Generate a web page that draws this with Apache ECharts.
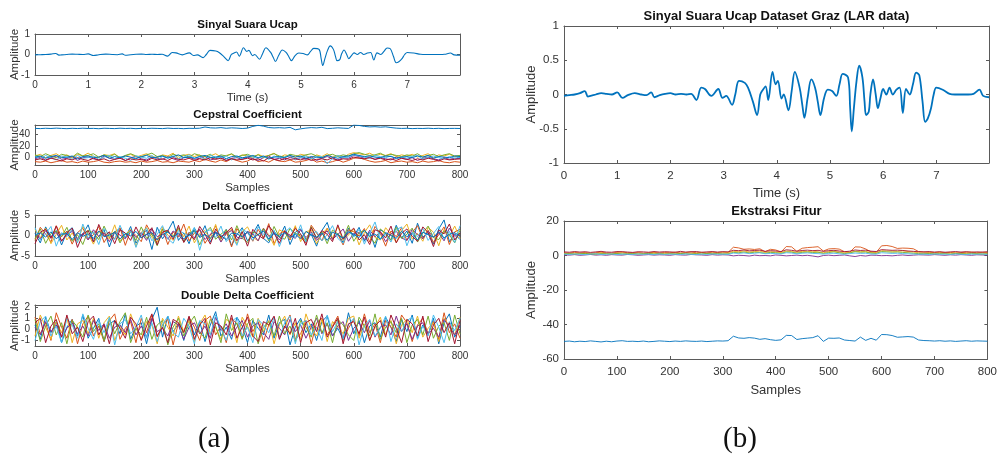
<!DOCTYPE html>
<html>
<head>
<meta charset="utf-8">
<script src="https://cdn.jsdelivr.net/npm/echarts@6/dist/echarts.min.js"></script>
<style>
html,body{margin:0;padding:0;background:#fff;}
#c{width:1000px;height:461px;}
</style>
</head>
<body>
<div id="c"></div>
<script>
// ---------- DATA ----------
const speechTime = [
0,0.1,0.2,0.3,0.39,0.45,0.5,0.6,0.7,0.8,
0.9,1.0,1.1,1.2,1.33,1.45,1.55,1.64,1.7,1.8,
1.9,2.0,2.1,2.2,2.3,2.39,2.49,2.58,2.65,2.77,
2.9,2.98,3.05,3.16,3.22,3.29,3.4,3.46,3.55,3.63,
3.69,3.74,3.79,3.84,3.92,3.98,4.02,4.09,4.13,4.22,
4.28,4.34,4.43,4.48,4.52,4.58,4.65,4.72,4.77,4.82,
4.89,4.96,5.04,5.12,5.18,5.24,5.34,5.38,5.41,5.45,
5.5,5.55,5.61,5.65,5.68,5.73,5.76,5.81,5.86,5.9,
5.95,6.0,6.06,6.12,6.18,6.25,6.31,6.37,6.43,6.5,
6.56,6.62,6.68,6.74,6.79,6.84,6.9,6.95,7.0,7.12,
7.25,7.35,7.47,7.6,7.7,7.81,7.88,7.99];
const speechAmp = [
-0.02,-0.01,0.0,0.02,0.05,-0.03,-0.02,0.0,0.02,0.01,
0.0,0.03,-0.05,-0.01,0.02,0.0,-0.01,0.03,-0.04,-0.01,
0.01,0.02,0.0,0.01,0.0,0.01,-0.08,0.1,0.08,-0.02,
0.08,-0.05,-0.02,-0.15,0.0,0.2,0.17,0.1,-0.1,-0.3,
0.0,0.07,0.12,-0.08,0.33,0.15,0.2,-0.06,0.0,-0.23,
0.05,0.33,0.1,-0.15,-0.34,-0.05,0.22,0.1,-0.1,-0.3,
-0.05,0.07,0.05,-0.02,0.15,0.3,0.25,-0.2,-0.54,-0.2,
0.2,0.42,0.25,-0.1,-0.3,-0.25,0.0,0.22,0.0,-0.2,
-0.05,0.08,0.0,0.1,0.0,0.07,0.1,-0.27,0.08,0.0,
0.15,0.32,0.28,-0.1,-0.4,-0.35,-0.2,0.0,0.1,0.07,
0.01,0.0,0.0,0.0,0.01,0.07,-0.02,-0.04];

const samples = [0,10,20,30,40,50,60,70,80,90,100,110,120,130,140,150,160,170,180,190,
200,210,220,230,240,250,260,270,280,290,300,310,320,330,340,350,360,370,380,390,
400,410,420,430,440,450,460,470,480,490,500,510,520,530,540,550,560,570,580,590,
600,610,620,630,640,650,660,670,680,690,700,710,720,730,740,750,760,770,780,790,800];

// Cepstral coefficients (left)
const cepTop = [
51.0,50.6,51.2,50.8,51.4,50.9,50.5,51.1,50.7,51.3,
50.8,51.0,50.4,51.2,50.9,50.6,51.3,50.8,51.1,50.5,
51.0,50.7,51.2,50.9,50.6,51.4,50.8,51.0,50.5,51.1,
50.9,51.3,53.5,52.0,51.6,52.4,51.2,52.0,51.5,50.8,
51.4,54.5,56.5,55.0,52.5,51.8,52.3,51.6,52.8,48.5,
50.2,51.5,52.4,51.8,52.9,50.6,51.2,52.0,51.4,50.9,
57.0,56.2,54.5,53.6,54.0,53.2,53.8,52.5,51.4,50.9,
51.2,50.6,51.0,50.8,51.3,50.7,51.1,50.5,50.9,51.0,
50.8];
const cepA = [
-8,-9,-7,-10,-8,-6,-9,-8,-10,-7,
-9,-8,-6,-9,-10,-8,-7,-9,-8,-10,
-7,-9,-8,-6,-9,-8,-10,-7,-8,-9,
-6,-8,-4,-7,-9,-5,-8,-3,-6,-9,
-7,-2,-8,-6,-9,-4,-7,-8,-5,-9,
-8,-6,-3,-9,-7,-10,-8,-5,-9,-6,
-2,-1,-4,-7,-9,-8,-6,-10,-8,-7,
-9,-8,-10,-7,-9,-8,-6,-9,-10,-8,
-9];
const cepB = [
2,5,-1,3,6,0,4,-2,5,2,
7,1,-1,4,3,6,-2,2,5,0,
3,6,1,-1,4,2,7,-2,3,5,
1,4,-3,2,6,0,3,5,-1,4,
2,-2,5,1,3,7,-1,4,2,0,
5,3,-2,4,1,6,0,3,-1,5,
8,6,4,7,2,5,3,6,1,4,
2,5,0,3,6,-1,4,2,5,1,
3];
const cepC = [
-3,0,-5,-1,2,-4,-2,1,-6,-1,
0,-3,-5,2,-2,-4,0,-6,-1,1,
-3,-5,0,-2,-4,1,-3,-6,-1,0,
-4,-2,1,-5,-3,0,-6,-2,-1,-4,
0,-3,-6,-1,2,-4,-2,-5,0,-3,
-1,-4,0,-6,-2,1,-3,-5,-1,-2,
3,1,-2,0,-4,-1,-3,-5,0,-2,
-4,-1,-6,-2,0,-3,-5,-1,-4,-2,
-3];
const cepD = [
4,1,6,2,-1,5,3,0,7,2,
3,6,0,4,1,5,-1,3,6,2,
0,4,7,1,3,-1,5,2,4,0,
6,3,1,5,-2,4,2,6,0,3,
5,1,4,-1,3,6,2,0,5,3,
1,4,6,2,-1,3,5,1,4,2,
6,8,5,3,4,7,2,5,3,1,
4,2,6,0,3,5,1,4,6,2,
3];
const cepE = [
1,-3,3,-1,-5,2,0,-4,3,-2,
-1,2,-4,0,3,-3,1,-2,-6,2,
0,-2,3,-5,1,-1,2,-3,0,4,
-2,1,-4,3,0,-1,2,-5,1,-3,
3,0,-2,1,-4,2,-1,0,3,-5,
-1,2,-3,0,1,-12,-2,3,-1,0,
4,2,0,-2,3,1,-1,2,-3,0,
-2,1,3,-4,0,2,-1,-3,1,-2,
0];
const cepF = [
-5,-3,-6,-2,-4,-7,-3,-5,-1,-4,
-6,-2,-5,-3,-7,-4,-2,-6,-3,-5,
-4,-7,-2,-5,-3,-6,-1,-4,-5,-2,
-6,-3,-5,-1,-4,-2,-6,-3,-5,-4,
-2,-5,-3,-7,-1,-4,-6,-2,-4,-3,
-5,-2,-6,-4,-3,-5,-1,-6,-3,-4,
0,-2,-3,-1,-4,-2,-5,-3,-6,-2,
-4,-6,-3,-5,-2,-4,-7,-3,-5,-4,
-3];
const cepG = [
0,2,-2,1,3,-1,0,2,-3,1,
2,-1,0,3,-2,1,-1,2,0,-3,
1,3,-1,0,2,-2,1,4,-1,0,
-2,1,3,-1,0,2,-3,1,2,-1,
0,3,-1,2,-2,0,1,-1,3,0,
2,-2,1,0,-1,3,0,-2,1,2,
5,3,1,2,0,-1,2,1,-2,0,
1,-1,2,0,3,-2,1,0,-1,2,
1];

// Delta coefficients
const dA = [
0.5,-1.8,2.1,-0.4,1.2,-2.3,0.8,1.9,-1.1,0.3,
2.6,-1.5,-0.2,1.4,-2.8,0.9,1.7,-0.6,2.2,-1.9,
0.1,1.3,-3.4,2.0,-0.8,1.1,3.5,-1.2,0.6,-2.0,
1.8,-0.3,2.4,-1.6,0.7,-0.9,1.5,-2.5,0.2,1.9,
-1.3,0.4,2.7,-0.7,-1.8,1.0,-0.5,2.3,-2.2,0.8,
1.6,-1.0,0.3,-2.6,1.2,3.2,-0.9,0.5,-1.7,1.8,
-0.2,2.0,-1.4,0.9,-2.9,1.4,0.6,-1.1,2.5,-0.6,
1.1,-1.9,3.0,-0.4,0.7,-2.1,1.6,3.8,-1.5,0.4,
-1.0];
const dB = [
-1.2,2.0,0.4,-1.6,2.4,-0.3,1.1,-2.1,0.7,1.8,
-0.9,0.2,2.2,-1.7,0.5,-0.8,1.9,-2.4,1.3,0.0,
-1.5,2.6,0.3,-1.0,1.6,-2.2,0.9,-0.4,2.8,-1.3,
0.6,1.4,-1.9,0.1,2.3,-0.7,1.0,-2.8,1.7,-0.2,
0.8,-1.4,1.5,-0.6,2.9,-2.0,0.4,1.2,-1.1,2.0,
-0.5,-1.8,2.5,0.6,-1.3,1.8,-0.9,0.3,-2.3,1.4,
0.9,-0.1,1.7,-1.6,2.2,0.5,-2.6,1.1,-0.3,1.9,
-1.2,0.7,2.4,-0.8,1.3,-1.7,0.2,2.1,-2.2,0.9,
1.5];
const dC = [
1.4,-0.6,1.8,-2.0,0.3,2.5,-1.1,0.6,-1.5,2.2,
0.4,-2.1,1.0,0.7,-0.9,2.6,-1.4,0.2,1.5,-2.7,
0.8,1.9,-0.5,-1.6,2.0,0.1,-1.2,1.7,-0.3,2.3,
-1.8,0.5,1.2,-0.9,2.7,-1.4,0.3,1.6,-2.1,0.9,
2.1,-0.4,-1.3,1.8,0.2,-2.4,1.4,0.6,-0.8,2.4,
-1.5,0.9,1.3,-2.0,0.4,1.7,-0.7,2.2,-1.2,0.1,
1.6,-2.3,0.7,2.6,-0.5,-1.1,1.9,0.3,-1.7,1.2,
2.8,-0.9,0.5,-1.4,2.0,0.8,-2.5,1.5,-0.2,2.3,
-0.7];
const dD = [
0.3,-0.9,1.2,-0.4,0.8,-1.3,0.2,1.0,-0.7,0.5,
-1.1,1.4,-0.2,0.6,-1.5,0.9,0.1,-0.8,1.3,-0.5,
0.7,-1.2,1.6,-0.3,0.4,-0.9,1.1,0.2,-1.4,0.8,
-0.6,1.5,-1.0,0.3,0.9,-1.6,0.5,1.2,-0.4,-0.8,
1.0,0.4,-1.3,1.7,-0.2,0.6,-1.1,0.9,0.1,-0.7,
1.4,-0.5,0.8,-1.2,0.3,1.1,-0.9,0.2,1.6,-1.4,
0.5,0.7,-1.0,1.3,-0.3,0.9,-1.5,0.4,1.0,-0.6,
-1.2,1.5,0.2,-0.8,1.1,-0.4,0.6,-1.3,1.8,-0.2,
0.4];
const dE = [
-0.8,1.6,-1.9,0.5,1.1,-0.3,2.0,-1.4,0.2,-2.2,
1.3,0.6,-1.0,2.3,-0.5,1.0,-1.8,0.4,0.9,-1.2,
2.1,-0.7,0.3,-2.5,1.5,0.8,-0.2,1.9,-1.6,0.6,
1.2,-2.3,0.7,2.0,-0.9,0.3,1.4,-1.1,2.4,-0.6,
-1.7,0.9,0.2,1.6,-1.3,2.2,-0.4,-0.9,1.7,0.5,
0.2,-1.5,2.1,-0.6,0.9,-2.0,1.3,0.4,-0.8,2.5,
-1.4,0.7,1.2,-0.3,-1.9,1.6,0.5,-1.2,2.0,-0.7,
0.3,1.8,-1.6,0.6,2.3,-0.5,-1.0,1.1,0.2,-1.8,
1.3];
const dF = [
1.9,-1.1,0.4,2.2,-2.6,0.7,-0.3,1.5,-1.8,2.8,
-0.6,0.9,-2.2,1.7,0.2,-1.0,2.5,-0.4,1.1,-2.9,
0.5,1.8,-1.3,0.3,2.4,-0.8,-1.9,1.2,0.6,-0.2,
2.0,-3.6,0.9,1.4,-0.5,2.3,-1.5,0.1,-2.4,1.6,
0.7,-1.2,2.1,0.3,-0.9,1.3,-2.7,0.8,1.9,-0.6,
2.6,-1.6,0.4,1.0,-1.3,0.2,2.4,-0.7,-1.9,1.1,
-0.4,1.5,-2.1,0.6,3.3,-1.0,0.2,-1.6,1.4,2.1,
-2.5,0.8,-0.3,1.7,-1.2,0.5,2.2,-0.9,1.0,-1.7,
2.4];
const dG = [
-2.0,0.8,1.5,-0.7,2.3,-1.4,0.5,1.8,-2.9,0.3,
1.2,-1.6,2.7,-0.2,0.9,-2.0,1.4,0.6,-1.2,2.1,
-0.5,0.2,1.9,-2.3,0.8,1.3,-0.9,2.5,-1.7,0.4,
-1.0,2.2,0.3,-2.1,1.6,-0.4,0.7,2.0,-1.3,0.9,
-2.6,1.5,0.1,-0.8,2.4,0.6,-1.9,1.1,-0.3,1.7,
0.4,-2.4,1.9,-0.7,1.2,0.3,-1.5,2.6,-0.9,0.6,
1.8,-1.1,0.2,-2.2,1.4,0.9,-0.6,2.3,-1.8,0.5,
1.6,-0.2,-1.4,2.1,0.7,-2.7,1.3,0.4,2.8,-1.1,
0.6];
const dH = [
0.2,0.6,-0.4,0.9,-0.8,0.3,0.5,-1.0,0.7,-0.2,
0.4,-0.7,1.1,-0.3,0.1,0.8,-0.9,0.5,-0.1,1.0,
-0.6,0.3,0.7,-1.1,0.2,0.9,-0.4,0.6,-0.8,0.1,
1.2,-0.5,0.3,-0.7,0.8,0.0,-1.0,0.6,0.4,-0.3,
0.9,-0.6,0.2,1.1,-0.9,0.5,-0.2,0.7,-0.5,0.3,
-0.8,1.0,0.1,-0.4,0.6,-1.2,0.8,0.2,-0.6,0.9,
0.3,-0.5,1.3,-0.2,0.4,-0.9,0.7,0.0,-0.7,1.0,
-0.3,0.5,-1.1,0.8,0.2,-0.4,0.9,-0.6,0.3,0.7,
-0.2];

// Double delta coefficients
const ddA = [
0.4,-0.9,1.1,-0.3,0.7,-1.2,0.2,0.9,-0.6,1.3,
-0.8,0.1,1.0,-1.1,0.5,0.8,-0.4,1.4,-0.9,0.3,
0.6,-1.3,0.9,2.0,-0.7,1.2,-0.2,0.5,-1.0,1.1,
-0.5,0.7,-1.1,0.4,1.6,-0.6,0.2,-0.9,1.1,0.3,
-1.2,0.8,0.1,-0.5,1.3,-0.8,0.6,0.9,-1.4,0.2,
1.0,-0.3,0.5,-1.0,0.7,1.2,-0.6,0.1,-0.9,1.5,
-0.4,0.8,-1.2,0.3,0.6,-0.7,1.1,0.2,-1.1,0.9,
-0.2,1.3,-0.8,0.4,-0.5,1.0,-1.3,0.6,1.4,-0.7,
0.3];
const ddB = [
1.1,-0.4,0.6,-1.0,1.5,0.2,-0.8,0.9,-1.3,0.5,
1.2,-0.6,0.3,-1.1,0.8,1.4,-0.9,0.1,0.7,-1.2,
1.0,-0.3,1.3,-0.7,0.4,0.9,-1.4,0.6,-0.2,1.1,
0.2,-1.0,0.8,1.2,-0.5,0.3,-1.2,1.0,0.5,-0.8,
1.4,-0.2,0.7,-1.1,0.4,1.1,-0.7,0.2,1.3,-0.9,
-0.4,0.8,-1.3,0.6,1.0,-0.5,0.3,1.2,-1.0,0.1,
0.9,-0.6,1.4,-0.3,0.5,-1.2,0.8,0.2,-0.7,1.3,
0.6,-1.1,0.4,1.0,-0.4,0.7,-0.9,1.5,-0.3,0.5,
-0.8];
const ddC = [
-0.6,1.3,0.2,-0.9,0.7,-0.3,1.1,-1.2,0.5,0.8,
-0.4,1.0,-0.8,0.6,1.2,-1.0,0.3,-0.5,1.4,0.1,
-0.9,0.7,0.4,-1.3,1.0,0.2,-0.6,1.2,-0.2,0.8,
-1.1,0.5,1.3,-0.4,0.2,-0.9,0.9,0.6,-1.2,1.1,
0.3,-0.7,1.0,-0.2,0.8,-1.3,0.4,1.2,-0.5,0.6,
-0.9,1.4,0.1,-0.6,0.9,-1.1,0.7,0.3,-0.4,1.0,
1.2,-0.8,0.5,-1.0,0.2,1.1,-0.5,0.8,-1.3,0.4,
0.9,-0.3,1.2,-0.7,0.1,0.6,-1.1,1.0,0.3,-0.5,
1.1];
const ddD = [
0.2,-0.5,0.7,-0.2,0.4,-0.7,0.1,0.6,-0.4,0.3,
-0.6,0.8,-0.1,0.5,-0.8,0.2,0.4,-0.3,0.9,-0.5,
0.3,-0.7,1.0,-0.2,0.1,-0.6,0.7,0.4,-0.9,0.2,
0.6,-0.4,0.3,-0.8,1.1,-0.1,0.5,-0.6,0.2,0.8,
-0.7,0.3,0.6,-0.3,-0.9,0.7,0.1,-0.5,0.9,-0.2,
0.4,-0.8,0.2,1.0,-0.4,0.5,-0.6,0.3,0.7,-1.0,
0.1,0.6,-0.3,0.8,-0.7,0.2,0.4,-0.5,1.2,-0.2,
0.5,-0.9,0.3,0.6,-0.4,0.1,-0.7,0.9,0.2,-0.5,
0.4];
const ddE = [
0.9,-1.1,0.3,1.2,-0.5,0.6,-1.3,0.8,0.2,-0.7,
1.3,-0.2,0.5,-1.0,1.0,-0.4,0.7,1.5,-1.2,0.1,
-0.5,1.1,-0.9,0.4,0.8,-1.4,0.2,1.0,-0.6,0.5,
1.2,-0.3,-0.8,0.9,0.3,-1.2,1.4,-0.1,0.6,-0.9,
0.5,1.0,-1.3,0.2,0.7,-0.6,1.2,-0.4,0.3,-1.1,
0.8,0.2,-0.7,1.3,-0.3,0.6,-1.2,0.9,0.4,-0.5,
-1.0,1.1,0.3,-0.6,1.4,-0.9,0.2,0.7,-0.3,1.0,
-1.2,0.4,0.9,-0.5,1.2,-0.8,0.3,0.6,-1.0,1.3,
-0.4];
const ddF = [
-1.0,0.7,1.2,-0.6,0.3,-1.2,1.0,0.4,-0.8,1.4,
0.1,-0.9,0.8,-0.3,1.1,-1.4,0.5,0.9,-0.4,0.2,
1.3,-0.8,0.6,-1.1,0.4,1.2,-0.3,-0.7,1.0,0.3,
-1.3,0.8,0.5,-0.5,1.3,0.1,-1.0,0.7,1.1,-0.6,
0.2,-1.2,0.9,0.4,-0.3,1.1,-0.8,0.6,1.2,-1.3,
0.5,0.8,-0.5,0.2,-1.0,1.3,-0.2,0.7,-0.9,0.4,
1.0,-1.4,0.3,0.9,-0.6,0.1,1.2,-1.1,0.5,-0.2,
0.8,1.1,-0.9,0.3,-0.6,1.3,0.2,-1.2,0.7,-0.1,
1.0];
const ddG = [
0.6,1.0,-1.2,0.3,0.9,-0.7,1.3,-0.4,0.2,-1.1,
0.7,1.2,-0.5,0.4,-1.3,0.8,0.1,-0.8,1.1,0.5,
-1.0,0.3,1.4,-0.6,0.2,-1.2,0.9,0.6,-0.3,1.2,
-0.9,0.4,1.0,-1.4,0.6,0.3,-0.5,1.3,-0.8,0.2,
1.1,-0.6,-1.1,0.7,0.4,1.2,-0.9,0.3,-0.4,1.0,
-1.2,0.6,0.9,-0.2,1.4,-0.7,0.2,1.0,-1.3,0.5,
0.7,-0.4,1.1,-1.0,0.3,0.8,-0.7,1.3,0.1,-1.2,
0.9,0.5,-0.6,1.2,-1.1,0.4,1.0,-0.3,0.6,-1.3,
0.8];

// Feature extraction (right)
const fBlue = [
-49.8,-49.6,-50.0,-49.7,-49.9,-49.5,-49.8,-50.1,-49.7,-50.0,
-49.6,-49.4,-49.8,-49.7,-49.9,-49.6,-50.0,-49.8,-49.5,-49.7,
-49.9,-49.6,-49.8,-49.5,-49.7,-49.8,-49.6,-49.9,-49.7,-49.5,
-49.6,-49.4,-46.8,-47.8,-48.0,-47.6,-47.9,-48.6,-48.2,-48.8,
-49.2,-48.9,-46.3,-46.4,-48.7,-48.2,-47.9,-47.6,-46.5,-49.8,
-47.9,-48.0,-47.8,-49.0,-49.3,-49.6,-47.3,-49.2,-48.0,-49.1,
-45.8,-45.9,-46.4,-47.4,-47.2,-47.0,-47.3,-49.0,-49.3,-49.4,
-49.6,-49.4,-49.7,-49.5,-49.8,-49.6,-49.4,-49.7,-49.5,-49.6,
-49.7];
const fOrange = [
1.6,1.4,1.8,1.5,1.7,1.3,1.6,1.9,1.5,1.4,
1.8,2.0,1.6,1.5,1.7,1.4,1.6,1.8,1.5,1.7,
1.6,1.9,1.5,1.7,2.0,1.6,1.8,1.5,1.9,1.7,
2.0,1.8,4.8,4.4,3.6,3.8,3.5,3.9,2.2,3.6,
3.2,2.0,5.2,5.0,2.4,4.2,4.6,4.8,5.1,2.6,
3.8,4.0,3.7,2.2,1.9,5.0,4.9,3.8,2.1,1.8,
5.6,5.8,5.2,4.1,4.3,4.2,3.9,2.3,2.0,1.8,
1.7,1.9,1.6,1.8,1.5,1.7,1.9,2.0,1.6,1.8,
1.7];
const fYellow = [
1.2,1.0,1.4,1.1,1.3,0.9,1.2,1.5,1.1,1.0,
1.3,1.6,1.2,1.0,1.4,1.1,1.2,1.5,1.0,1.3,
1.2,1.4,1.1,1.5,1.3,1.2,1.6,1.1,1.4,1.3,
1.5,1.6,2.4,2.2,2.6,2.0,2.3,2.5,1.8,2.2,
2.0,1.7,2.6,2.3,1.9,2.4,2.2,2.5,2.1,1.6,
2.3,2.4,2.0,1.5,1.9,2.5,2.2,2.4,1.7,1.6,
2.8,2.6,2.5,2.4,2.7,2.3,2.0,1.6,1.4,1.5,
1.3,1.6,1.2,1.4,1.5,1.1,1.3,1.6,1.2,1.4,
1.3];
const fPurple = [
0.4,0.2,0.5,0.1,0.3,0.6,0.2,0.4,0.1,0.5,
0.3,0.2,0.6,0.4,0.1,0.3,0.5,0.2,0.4,0.3,
0.1,0.5,0.3,0.2,0.6,0.4,0.3,0.1,0.5,0.2,
0.4,0.3,-0.2,0.1,0.0,-0.3,0.2,-0.1,0.0,-0.2,
0.3,0.1,-0.2,0.0,0.2,-0.1,0.1,-0.3,-0.8,0.0,
0.2,-0.1,0.1,0.3,-0.2,-0.6,0.0,-0.3,0.2,0.1,
-0.1,0.0,-0.2,0.1,0.3,0.0,0.2,0.4,0.3,0.2,
0.5,0.3,0.1,0.4,0.2,0.5,0.3,0.1,0.4,0.3,
0.2];
const fGreen = [
0.9,1.1,0.8,1.0,1.2,0.9,0.7,1.1,1.0,0.8,
1.2,0.9,1.0,1.1,0.8,1.0,1.2,0.9,1.1,0.8,
1.0,0.9,1.2,1.0,0.8,1.1,0.9,1.2,1.0,1.1,
0.9,1.0,1.8,1.6,2.0,1.5,1.9,1.7,1.3,1.8,
1.6,1.2,2.1,1.9,1.4,1.8,2.0,1.7,1.9,1.2,
1.7,2.1,1.6,1.1,1.5,2.2,1.9,2.0,1.4,1.2,
2.3,2.1,1.9,2.0,1.8,1.6,1.3,1.1,1.0,1.2,
0.9,1.1,1.0,0.8,1.2,1.0,0.9,1.1,1.0,0.8,
1.0];
const fCyan = [
0.8,0.6,0.9,0.7,0.5,0.8,1.0,0.6,0.7,0.9,
0.5,0.8,0.7,0.6,0.9,0.7,0.8,0.5,0.9,0.6,
0.8,0.7,0.6,0.9,0.7,0.5,0.8,0.6,0.9,0.7,
0.8,0.6,1.4,1.2,1.5,1.1,1.3,1.6,1.0,1.2,
1.1,0.9,1.6,1.4,1.0,1.3,1.5,1.2,1.1,0.8,
1.2,1.3,1.0,0.7,1.1,1.4,1.2,1.3,0.9,0.8,
1.6,1.4,1.2,1.3,1.1,1.0,0.9,0.7,0.8,0.6,
0.9,0.7,0.8,0.6,0.9,0.7,0.5,0.8,0.7,0.9,
0.6];
const fRed = [
2.1,1.9,2.3,2.0,2.2,1.8,2.1,2.4,2.0,1.9,
2.3,2.2,2.0,1.8,2.2,2.1,1.9,2.3,2.0,2.2,
2.1,1.9,2.4,2.0,2.2,2.3,1.9,2.1,2.3,2.0,
2.2,2.1,3.0,2.8,3.2,2.7,2.9,3.1,2.4,2.8,
2.6,2.3,3.3,3.0,2.5,2.9,3.1,2.8,3.0,2.4,
2.8,3.0,2.6,2.2,2.5,3.2,2.9,3.1,2.5,2.3,
3.4,3.2,3.0,3.1,2.9,2.6,2.4,2.2,2.1,2.3,
2.0,2.2,1.9,2.1,2.3,2.0,2.2,1.9,2.1,2.0,
2.2];

// Tick labels
const timeTicks = [0,1,2,3,4,5,6,7];
const sampleTicks = [0,100,200,300,400,500,600,700,800];
const ampTicksA = [-1,0,1];
const ampTicksB = [-1,-0.5,0,0.5,1];
const cepTicks = [0,20,40];
const deltaTicks = [-5,0,5];
const ddTicks = [-1,0,1,2];
const featTicks = [-60,-40,-20,0,20];

// ---------- STYLE ----------
const COL = ['#0072BD','#D95319','#EDB120','#7E2F8E','#77AC30','#4DBEEE','#A2142F'];
const AX = '#5a5a5a';
const TXT = '#333333';
const FF = '"Liberation Sans", Arial, sans-serif';

const grids = [
  {left:35, top:34, width:425, height:41},
  {left:35, top:125, width:425, height:40},
  {left:35, top:215, width:425, height:41},
  {left:35, top:305, width:425, height:41},
  {left:564, top:26, width:425, height:137},
  {left:564, top:221, width:425, height:138}
];

const xAxes = [], yAxes = [];
function addX(g, min, max, ticks, fs, margin, name, nameGap, nameFs){
  const base = {gridIndex:g, type:'value', min:min, max:max, splitLine:{show:false},
    axisLine:{onZero:false, lineStyle:{color:AX, width:1}}};
  xAxes.push(Object.assign({}, base, {position:'bottom',
    axisTick:{inside:true, length:3, customValues:ticks, lineStyle:{color:AX}},
    axisLabel:{customValues:ticks, fontSize:fs, color:TXT, margin:margin, fontFamily:FF},
    name:name, nameLocation:'middle', nameGap:nameGap,
    nameTextStyle:{fontSize:nameFs, color:TXT, fontFamily:FF}}));
  xAxes.push(Object.assign({}, base, {position:'top',
    axisTick:{inside:true, length:3, customValues:ticks, lineStyle:{color:AX}},
    axisLabel:{show:false}}));
}
function addY(g, min, max, ticks, fs, margin, name, nameGap, nameFs){
  const base = {gridIndex:g, type:'value', min:min, max:max, splitLine:{show:false},
    axisLine:{onZero:false, lineStyle:{color:AX, width:1}}};
  yAxes.push(Object.assign({}, base, {position:'left',
    axisTick:{inside:true, length:3, customValues:ticks, lineStyle:{color:AX}},
    axisLabel:{customValues:ticks, fontSize:fs, color:TXT, margin:margin, fontFamily:FF},
    name:name, nameLocation:'middle', nameGap:nameGap, nameMoveOverlap:false,
    nameTextStyle:{fontSize:nameFs, color:TXT, fontFamily:FF}}));
  yAxes.push(Object.assign({}, base, {position:'right',
    axisTick:{inside:true, length:3, customValues:ticks, lineStyle:{color:AX}},
    axisLabel:{show:false}}));
}

// left column
addX(0, 0, 7.99, timeTicks, 10, 5, 'Time (s)', 17, 11.5);
addY(0, -1, 1, ampTicksA, 10, 5, 'Amplitude', 14, 11.5);
addX(1, 0, 800, sampleTicks, 10, 5, 'Samples', 17, 11.5);
addY(1, -14, 57, cepTicks, 10, 5, 'Amplitude', 14, 11.5);
addX(2, 0, 800, sampleTicks, 10, 5, 'Samples', 17, 11.5);
addY(2, -5, 5, deltaTicks, 10, 5, 'Amplitude', 14, 11.5);
addX(3, 0, 800, sampleTicks, 10, 5, 'Samples', 17, 11.5);
addY(3, -1.5, 2.2, ddTicks, 10, 5, 'Amplitude', 14, 11.5);
// right column
addX(4, 0, 7.99, timeTicks, 11.5, 7, 'Time (s)', 24, 13);
addY(4, -1, 1, ampTicksB, 11.5, 5, 'Amplitude', 26, 13);
addX(5, 0, 800, sampleTicks, 11.5, 7, 'Samples', 25, 13);
addY(5, -60, 20, featTicks, 11.5, 5, 'Amplitude', 26, 13);

function zip(xs, ys){
  const n = Math.min(xs.length, ys.length);
  const out = [];
  for (let i = 0; i < n; i++) out.push([xs[i], ys[i]]);
  return out;
}
const series = [];
function line(g, xs, ys, color, w, smooth){
  series.push({type:'line', xAxisIndex:2*g, yAxisIndex:2*g, data:zip(xs, ys),
    showSymbol:false, symbol:'none', smooth:smooth || false, animation:false,
    silent:true, lineStyle:{color:color, width:w}});
}

line(0, speechTime, speechAmp, COL[0], 1.1, 0.35);
[cepTop, cepA, cepB, cepC, cepD, cepE, cepF, cepG].forEach((s, i) => line(1, samples, s, COL[i % 7], 1));
[dA, dB, dC, dD, dE, dF, dG, dH].forEach((s, i) => line(2, samples, s, COL[i % 7], 1));
[ddA, ddB, ddC, ddD, ddE, ddF, ddG].forEach((s, i) => line(3, samples, s, COL[i % 7], 1));
line(4, speechTime, speechAmp, COL[0], 1.8, 0.35);
[fBlue, fOrange, fYellow, fPurple, fGreen, fCyan, fRed].forEach((s, i) => line(5, samples, s, COL[i % 7], 0.9));

function label(text, x, y, size, bold, family){
  return {type:'text', x:x, y:y, silent:true,
    style:{text:text, textAlign:'center', textVerticalAlign:'top', fill:'#111',
      font:(bold ? 'bold ' : '') + size + 'px ' + (family || FF)}};
}

const chart = echarts.init(document.getElementById('c'), null, {renderer:'canvas'});
chart.setOption({
  backgroundColor:'#ffffff',
  animation:false,
  grid:grids,
  xAxis:xAxes,
  yAxis:yAxes,
  series:series,
  graphic:[
    label('Sinyal Suara Ucap', 247.5, 18.5, 11.5, true),
    label('Cepstral Coefficient', 247.5, 109, 11.5, true),
    label('Delta Coefficient', 247.5, 201, 11.5, true),
    label('Double Delta Coefficient', 247.5, 290, 11.5, true),
    label('Sinyal Suara Ucap Dataset Graz (LAR data)', 776.5, 9.5, 13, true),
    label('Ekstraksi Fitur', 776.5, 204.5, 13, true),
    label('(a)', 214, 425, 29, false, '"Liberation Serif", "Times New Roman", serif'),
    label('(b)', 740, 425, 29, false, '"Liberation Serif", "Times New Roman", serif')
  ]
});
</script>
</body>
</html>
